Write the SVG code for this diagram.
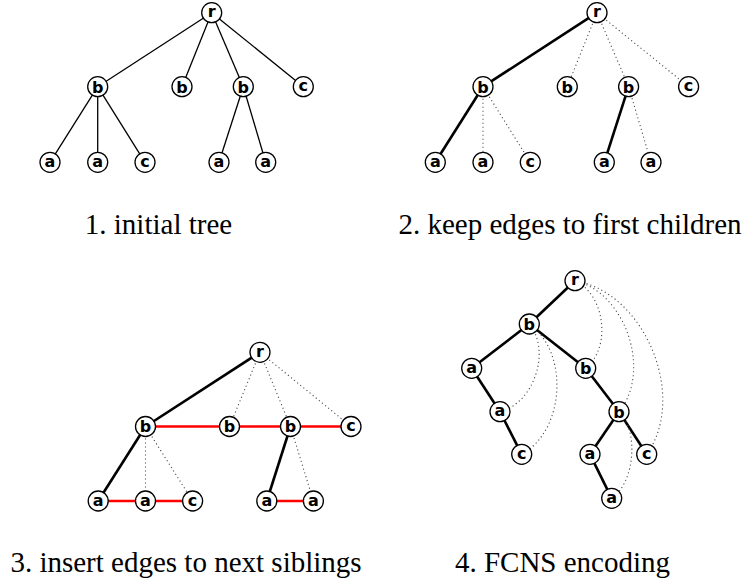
<svg xmlns="http://www.w3.org/2000/svg" width="743" height="584" viewBox="0 0 743 584">
<style>
.n circle{fill:#fff;stroke:#000;stroke-width:1.3}
.n text{font-family:"DejaVu Sans",sans-serif;font-weight:bold;font-size:16px;text-anchor:middle}
.thin{stroke:#000;stroke-width:1.3;fill:none}
.thick{stroke:#000;stroke-width:2.6;fill:none}
.dot{stroke:#444;stroke-width:1.1;stroke-dasharray:1.1 2.9;fill:none}
.red{stroke:#ff0000;stroke-width:2.6;fill:none}
.cap{font-family:"Liberation Serif","Times New Roman",serif;font-size:29px;text-anchor:middle}
</style>
<g id="connectors">
<!-- panel 1 -->
<line class="thin" x1="211.7" y1="12.7" x2="97.7" y2="86.7"/>
<line class="thin" x1="211.7" y1="12.7" x2="182" y2="86.7"/>
<line class="thin" x1="211.7" y1="12.7" x2="243.3" y2="86.7"/>
<line class="thin" x1="211.7" y1="12.7" x2="303.3" y2="86.7"/>
<line class="thin" x1="97.7" y1="86.7" x2="50" y2="162.3"/>
<line class="thin" x1="97.7" y1="86.7" x2="97.7" y2="162.3"/>
<line class="thin" x1="97.7" y1="86.7" x2="145" y2="162.3"/>
<line class="thin" x1="243.3" y1="86.7" x2="219" y2="162.3"/>
<line class="thin" x1="243.3" y1="86.7" x2="265.7" y2="162.3"/>
<!-- panel 2 -->
<line class="thick" x1="597" y1="12.7" x2="483" y2="86.7"/>
<line class="dot" x1="597" y1="12.7" x2="567.3" y2="86.7"/>
<line class="dot" x1="597" y1="12.7" x2="628.6" y2="86.7"/>
<line class="dot" x1="597" y1="12.7" x2="688.6" y2="86.7"/>
<line class="thick" x1="483" y1="86.7" x2="435.3" y2="162.3"/>
<line class="dot" x1="483" y1="86.7" x2="483" y2="162.3"/>
<line class="dot" x1="483" y1="86.7" x2="530.3" y2="162.3"/>
<line class="thick" x1="628.6" y1="86.7" x2="604.3" y2="162.3"/>
<line class="dot" x1="628.6" y1="86.7" x2="651" y2="162.3"/>
<!-- panel 3 -->
<line class="thick" x1="260" y1="352.3" x2="145.5" y2="426.5"/>
<line class="dot" x1="260" y1="352.3" x2="229.5" y2="426.5"/>
<line class="dot" x1="260" y1="352.3" x2="290.5" y2="426.5"/>
<line class="dot" x1="260" y1="352.3" x2="351" y2="426.5"/>
<line class="thick" x1="145.5" y1="426.5" x2="98.2" y2="501"/>
<line class="dot" x1="145.5" y1="426.5" x2="145.5" y2="501"/>
<line class="dot" x1="145.5" y1="426.5" x2="192.6" y2="501"/>
<line class="thick" x1="290.5" y1="426.5" x2="266.8" y2="501"/>
<line class="dot" x1="290.5" y1="426.5" x2="313.4" y2="501"/>
<line class="red" x1="145.5" y1="426.5" x2="351" y2="426.5"/>
<line class="red" x1="98.2" y1="501" x2="192.6" y2="501"/>
<line class="red" x1="266.8" y1="501" x2="313.4" y2="501"/>
<!-- panel 4 -->
<line class="thick" x1="575" y1="280.7" x2="529.3" y2="324"/>
<line class="thick" x1="529.3" y1="324" x2="471.7" y2="368.3"/>
<line class="thick" x1="529.3" y1="324" x2="585.7" y2="368.3"/>
<line class="thick" x1="471.7" y1="368.3" x2="500" y2="411.7"/>
<line class="thick" x1="500" y1="411.7" x2="521.7" y2="454.3"/>
<line class="thick" x1="585.7" y1="368.3" x2="619" y2="411.7"/>
<line class="thick" x1="619" y1="411.7" x2="590" y2="454.3"/>
<line class="thick" x1="619" y1="411.7" x2="646.7" y2="454.3"/>
<line class="thick" x1="590" y1="454.3" x2="611.7" y2="498.3"/>
<path class="dot" d="M575,280.7 C605.2,294.8 611.6,347.4 585.7,368.3"/>
<path class="dot" d="M575,280.7 C625.7,292.8 652.1,371.4 619,411.7"/>
<path class="dot" d="M575,280.7 C644.9,292.5 687.9,396.6 646.7,454.3"/>
<path class="dot" d="M529.3,324 C551.5,350.9 533.9,403.5 500,411.7"/>
<path class="dot" d="M529.3,324 C569.5,352.5 564.9,430.7 521.7,454.3"/>
<path class="dot" d="M619,411.7 C639.2,430.9 634.8,482.8 611.7,498.3"/>
</g>
<!-- panel 1 nodes -->
<g id="p1-r" class="n"><circle cx="211.7" cy="12.7" r="10"/><text x="211.7" y="17.4">r</text></g>
<g id="p1-b1" class="n"><circle cx="97.7" cy="86.7" r="10"/><text x="97.7" y="92.5">b</text></g>
<g id="p1-b2" class="n"><circle cx="182" cy="86.7" r="10"/><text x="182" y="92.5">b</text></g>
<g id="p1-b3" class="n"><circle cx="243.3" cy="86.7" r="10"/><text x="243.3" y="92.5">b</text></g>
<g id="p1-c1" class="n"><circle cx="303.3" cy="86.7" r="10"/><text x="303.3" y="91.4">c</text></g>
<g id="p1-a1" class="n"><circle cx="50" cy="162.3" r="10"/><text x="50" y="167">a</text></g>
<g id="p1-a2" class="n"><circle cx="97.7" cy="162.3" r="10"/><text x="97.7" y="167">a</text></g>
<g id="p1-c2" class="n"><circle cx="145" cy="162.3" r="10"/><text x="145" y="167">c</text></g>
<g id="p1-a3" class="n"><circle cx="219" cy="162.3" r="10"/><text x="219" y="167">a</text></g>
<g id="p1-a4" class="n"><circle cx="265.7" cy="162.3" r="10"/><text x="265.7" y="167">a</text></g>
<!-- panel 2 nodes -->
<g id="p2-r" class="n"><circle cx="597" cy="12.7" r="10"/><text x="597" y="17.4">r</text></g>
<g id="p2-b1" class="n"><circle cx="483" cy="86.7" r="10"/><text x="483" y="92.5">b</text></g>
<g id="p2-b2" class="n"><circle cx="567.3" cy="86.7" r="10"/><text x="567.3" y="92.5">b</text></g>
<g id="p2-b3" class="n"><circle cx="628.6" cy="86.7" r="10"/><text x="628.6" y="92.5">b</text></g>
<g id="p2-c1" class="n"><circle cx="688.6" cy="86.7" r="10"/><text x="688.6" y="91.4">c</text></g>
<g id="p2-a1" class="n"><circle cx="435.3" cy="162.3" r="10"/><text x="435.3" y="167">a</text></g>
<g id="p2-a2" class="n"><circle cx="483" cy="162.3" r="10"/><text x="483" y="167">a</text></g>
<g id="p2-c2" class="n"><circle cx="530.3" cy="162.3" r="10"/><text x="530.3" y="167">c</text></g>
<g id="p2-a3" class="n"><circle cx="604.3" cy="162.3" r="10"/><text x="604.3" y="167">a</text></g>
<g id="p2-a4" class="n"><circle cx="651" cy="162.3" r="10"/><text x="651" y="167">a</text></g>
<!-- panel 3 nodes -->
<g id="p3-r" class="n"><circle cx="260" cy="352.3" r="10"/><text x="260" y="357">r</text></g>
<g id="p3-b1" class="n"><circle cx="145.5" cy="426.5" r="10"/><text x="145.5" y="432.3">b</text></g>
<g id="p3-b2" class="n"><circle cx="229.5" cy="426.5" r="10"/><text x="229.5" y="432.3">b</text></g>
<g id="p3-b3" class="n"><circle cx="290.5" cy="426.5" r="10"/><text x="290.5" y="432.3">b</text></g>
<g id="p3-c1" class="n"><circle cx="351" cy="426.5" r="10"/><text x="351" y="431.2">c</text></g>
<g id="p3-a1" class="n"><circle cx="98.2" cy="501" r="10"/><text x="98.2" y="505.7">a</text></g>
<g id="p3-a2" class="n"><circle cx="145.5" cy="501" r="10"/><text x="145.5" y="505.7">a</text></g>
<g id="p3-c2" class="n"><circle cx="192.6" cy="501" r="10"/><text x="192.6" y="505.7">c</text></g>
<g id="p3-a3" class="n"><circle cx="266.8" cy="501" r="10"/><text x="266.8" y="505.7">a</text></g>
<g id="p3-a4" class="n"><circle cx="313.4" cy="501" r="10"/><text x="313.4" y="505.7">a</text></g>
<!-- panel 4 nodes -->
<g id="p4-r" class="n"><circle cx="575" cy="280.7" r="10"/><text x="575" y="285.4">r</text></g>
<g id="p4-b1" class="n"><circle cx="529.3" cy="324" r="10"/><text x="529.3" y="329.8">b</text></g>
<g id="p4-a1" class="n"><circle cx="471.7" cy="368.3" r="10"/><text x="471.7" y="373">a</text></g>
<g id="p4-b2" class="n"><circle cx="585.7" cy="368.3" r="10"/><text x="585.7" y="374.1">b</text></g>
<g id="p4-a2" class="n"><circle cx="500" cy="411.7" r="10"/><text x="500" y="416.4">a</text></g>
<g id="p4-b3" class="n"><circle cx="619" cy="411.7" r="10"/><text x="619" y="417.5">b</text></g>
<g id="p4-c2" class="n"><circle cx="521.7" cy="454.3" r="10"/><text x="521.7" y="459">c</text></g>
<g id="p4-a3" class="n"><circle cx="590" cy="454.3" r="10"/><text x="590" y="459">a</text></g>
<g id="p4-c1" class="n"><circle cx="646.7" cy="454.3" r="10"/><text x="646.7" y="459">c</text></g>
<g id="p4-a4" class="n"><circle cx="611.7" cy="498.3" r="10"/><text x="611.7" y="503">a</text></g>
<g id="captions">
<text class="cap" x="158.5" y="234">1. initial tree</text>
<text class="cap" x="570" y="233.5">2. keep edges to first children</text>
<text class="cap" x="186" y="572">3. insert edges to next siblings</text>
<text class="cap" x="562.5" y="572">4. FCNS encoding</text>
</g>
</svg>
